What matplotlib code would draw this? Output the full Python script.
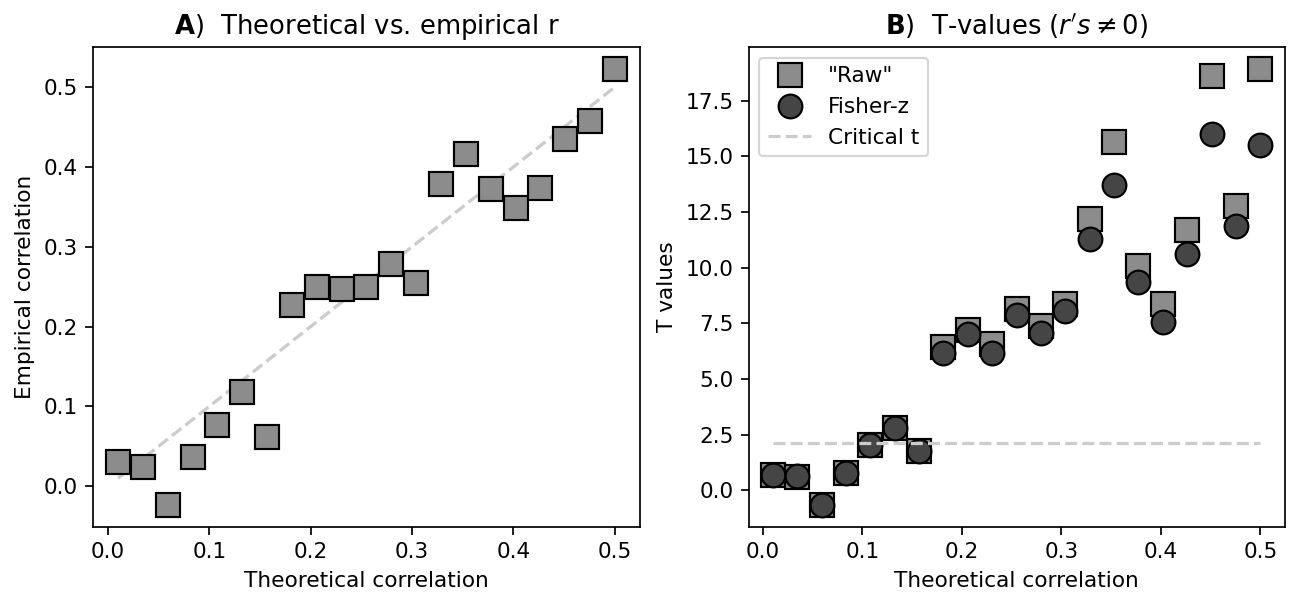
import matplotlib
matplotlib.use("Agg")
import matplotlib.pyplot as plt

theoretical_r = [0.0100, 0.0345, 0.0590, 0.0835, 0.1080, 0.1325, 0.1570, 0.1815,
                 0.2060, 0.2305, 0.2550, 0.2795, 0.3040, 0.3285, 0.3530, 0.3775,
                 0.4020, 0.4265, 0.4510, 0.4755, 0.5000]
empirical_r = [0.030, 0.024, -0.024, 0.036, 0.077, 0.118, 0.062, 0.227,
               0.250, 0.247, 0.250, 0.278, 0.255, 0.379, 0.416, 0.372,
               0.349, 0.374, 0.435, 0.458, 0.523]
t_raw = [0.70, 0.60, -0.68, 0.76, 2.05, 2.80, 1.75, 6.43,
         7.20, 6.57, 8.14, 7.38, 8.37, 12.19, 15.65, 10.08,
         8.37, 11.70, 18.62, 12.78, 18.94]
t_fisher = [0.68, 0.62, -0.65, 0.78, 2.05, 2.80, 1.75, 6.16,
            7.02, 6.16, 7.87, 7.06, 8.05, 11.29, 13.72, 9.36,
            7.56, 10.62, 16.01, 11.88, 15.52]
critical_t = 2.10
identity = [theoretical_r[0], theoretical_r[-1]]

DPI = 155.4
fig = plt.figure(figsize=(1295 / DPI, 593 / DPI), dpi=DPI)
axA = fig.add_axes([0.072, 0.111, 0.422, 0.810])
axB = fig.add_axes([0.578, 0.111, 0.414, 0.810])

axA.plot(identity, identity, '--', color=(0.8, 0.8, 0.8), zorder=1)
axA.plot(theoretical_r, empirical_r, 's', markersize=11, markerfacecolor=(0.55, 0.55, 0.55),
         markeredgecolor='k', zorder=2)
axA.set_xlabel('Theoretical correlation')
axA.set_ylabel('Empirical correlation')
axA.set_title(r'$\bf{A}$)  Theoretical vs. empirical r')

axB.plot(theoretical_r, t_raw, 's', markersize=11, markerfacecolor=(0.55, 0.55, 0.55),
         markeredgecolor='k', label='"Raw"')
axB.plot(theoretical_r, t_fisher, 'o', markersize=11, markerfacecolor=(0.27, 0.27, 0.27),
         markeredgecolor='k', label='Fisher-z')
axB.plot([theoretical_r[0], theoretical_r[-1]], [critical_t, critical_t], '--',
         color=(0.8, 0.8, 0.8), label='Critical t')
axB.set_xlabel('Theoretical correlation')
axB.set_ylabel('T values')
axB.set_title(r"$\bf{B}$)  T-values ($r's \neq 0$)")
axB.legend(loc='upper left')

fig.savefig('out.png', dpi=DPI)
